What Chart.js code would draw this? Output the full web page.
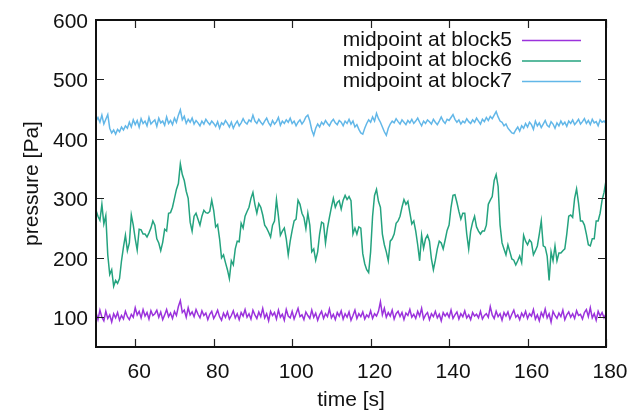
<!DOCTYPE html>
<html>
<head>
<meta charset="utf-8">
<script src="https://cdn.jsdelivr.net/npm/chart.js@4.4.1/dist/chart.umd.min.js"></script>
<style>
  html, body { margin: 0; padding: 0; background: #fff; }
  #wrap { width: 632px; height: 413px; position: relative; }
</style>
</head>
<body>
<div id="wrap"><canvas id="chart"></canvas></div>
<script>
// time axis: samples every 0.5 s from 50 to 180
const tStart = 50;
const tStep = 0.5;
const xTicks = [60, 80, 100, 120, 140, 160, 180];
const yTicks = [100, 200, 300, 400, 500, 600];
const seriesNames = ["midpoint at block5", "midpoint at block6", "midpoint at block7"];
const seriesColors = ["#9b32dc", "#24a37f", "#62b7e8"];

// pressure [Pa], one row = 5 s
const block5 = [
  108,96,112,100,94,110,98,104,92,106,
  99,108,95,103,97,110,101,96,105,100,
  116,104,110,99,113,102,108,97,111,103,
  106,112,100,109,96,104,113,101,107,98,
  110,103,118,128,108,112,100,116,104,109,
  101,113,105,99,111,103,107,96,105,110,
  98,104,112,101,95,107,100,109,97,103,
  111,99,106,96,108,102,113,100,106,97,
  112,104,98,109,101,115,99,106,94,110,
  103,108,97,112,100,105,95,113,102,99,
  110,97,106,115,101,104,96,109,103,98,
  112,100,107,95,104,110,98,106,101,114,
  99,105,96,108,102,111,97,106,100,109,
  95,103,112,98,106,101,109,97,104,100,
  111,98,106,102,110,126,104,115,100,108,
  102,112,97,106,110,101,108,96,107,103,
  113,100,105,98,110,102,115,97,104,108,
  96,106,101,110,99,105,94,108,102,107,
  100,112,98,104,109,97,106,101,111,99,
  104,96,108,102,105,99,110,97,103,106,
  100,118,104,98,110,101,106,95,108,102,
  109,97,105,112,100,104,96,107,101,110,
  98,106,102,113,97,104,94,108,101,114,
  99,106,92,110,103,98,107,101,112,96,
  104,109,100,106,98,111,103,105,97,108,
  113,101,116,99,106,95,110,102,108,99,
  106
];

const block6 = [
  280,270,263,290,257,271,205,172,180,152,
  162,157,165,195,218,238,212,225,272,255,
  232,213,248,247,240,240,235,242,250,262,
  255,232,225,212,226,248,245,275,276,285,
  300,315,325,358,340,330,312,300,260,245,
  270,275,265,255,270,280,276,275,278,297,
  280,252,256,232,200,205,192,180,165,195,
  188,215,228,227,258,250,270,278,285,300,
  310,290,275,291,285,272,255,250,243,235,
  255,262,298,270,238,245,250,232,205,228,
  246,262,265,297,290,275,268,249,275,255,
  210,215,196,210,240,260,258,225,250,268,
  285,300,285,293,296,282,297,305,298,303,
  296,240,250,240,252,250,207,190,180,175,
  210,270,305,315,295,285,240,222,210,195,
  228,232,240,258,262,270,285,298,290,295,
  276,257,262,245,222,195,238,216,232,238,
  228,198,180,196,215,228,225,215,230,246,
  255,285,305,306,293,278,265,275,275,240,
  215,245,260,270,252,245,240,245,245,255,
  290,297,303,330,340,320,255,225,215,205,
  222,210,198,196,188,195,203,192,238,228,
  222,230,226,205,212,220,240,262,220,218,
  203,162,210,195,220,195,208,208,212,215,
  240,270,272,268,300,316,292,262,262,255,
  240,222,220,232,232,262,262,275,297,310,
  330
];

const block7 = [
  430,436,428,440,425,433,441,418,410,415,
  408,416,412,420,415,422,418,428,420,432,
  424,431,420,434,426,430,422,436,425,429,
  432,421,435,427,430,423,437,426,431,424,
  435,428,440,449,432,438,426,433,428,435,
  425,431,427,422,430,425,433,428,424,430,
  426,421,429,418,427,424,431,426,420,428,
  418,425,430,422,427,434,428,425,432,429,
  440,430,426,433,428,424,430,435,427,422,
  431,425,429,436,423,430,426,432,428,435,
  426,430,422,428,432,425,430,437,440,430,
  415,406,418,425,420,428,424,431,426,422,
  429,433,427,424,431,428,422,430,426,433,
  425,430,420,424,416,410,408,418,426,432,
  428,437,430,443,434,428,420,412,406,418,
  425,430,427,434,429,425,432,428,424,431,
  427,433,426,430,435,428,422,430,426,432,
  429,425,433,428,424,430,437,430,426,433,
  431,436,441,433,428,432,425,430,427,434,
  429,426,432,428,435,430,425,433,429,436,
  431,438,434,440,446,437,430,428,422,425,
  418,414,410,409,415,420,413,422,418,426,
  420,428,424,416,430,422,427,419,425,431,
  423,420,429,425,418,427,422,430,424,428,
  421,430,426,432,424,428,433,425,429,434,
  426,431,424,433,427,429,422,432,428,430,
  426
];

const FONT = "'Liberation Sans', Arial, Helvetica, sans-serif";

function toPoints(values){
  return values.map((v, i) => ({ x: tStart + i * tStep, y: v }));
}

// gnuplot style frame with inward ticks on all four sides
const framePlugin = {
  id: "frame",
  afterDatasetsDraw(chart){
    const ctx = chart.ctx;
    const a = chart.chartArea;
    const xs = chart.scales.x, ys = chart.scales.y;
    const tl = 8;
    ctx.save();
    ctx.strokeStyle = "#222";
    ctx.lineWidth = 1.2;
    ctx.beginPath();
    xTicks.forEach(v => {
      const px = Math.round(xs.getPixelForValue(v)) + 0.5;
      ctx.moveTo(px, a.bottom); ctx.lineTo(px, a.bottom - tl);
      ctx.moveTo(px, a.top); ctx.lineTo(px, a.top + tl);
    });
    yTicks.forEach(v => {
      const py = Math.round(ys.getPixelForValue(v)) + 0.5;
      ctx.moveTo(a.left, py); ctx.lineTo(a.left + tl, py);
      ctx.moveTo(a.right, py); ctx.lineTo(a.right - tl, py);
    });
    ctx.stroke();
    ctx.strokeStyle = "#111";
    ctx.lineWidth = 2;
    ctx.strokeRect(a.left, a.top, a.right - a.left, a.bottom - a.top);
    ctx.restore();
  }
};

// key in the top right corner: text first, then the line sample
const keyPlugin = {
  id: "key",
  afterDatasetsDraw(chart){
    const ctx = chart.ctx;
    const textRight = 512, lineX0 = 522, lineX1 = 581;
    const rowY = [40, 60.5, 81];
    ctx.save();
    ctx.font = "21px " + FONT;
    ctx.textAlign = "right";
    ctx.textBaseline = "middle";
    chart.data.datasets.forEach((ds, i) => {
      ctx.fillStyle = "#111";
      ctx.fillText(ds.label, textRight, rowY[i]);
      ctx.strokeStyle = ds.borderColor;
      ctx.lineWidth = 1.5;
      ctx.beginPath();
      ctx.moveTo(lineX0, rowY[i] + 0.5);
      ctx.lineTo(lineX1, rowY[i] + 0.5);
      ctx.stroke();
    });
    ctx.restore();
  }
};

const datasets = [block5, block6, block7].map((vals, i) => ({
  label: seriesNames[i],
  data: toPoints(vals),
  borderColor: seriesColors[i],
  borderWidth: 1.5,
  pointRadius: 0,
  tension: 0,
  fill: false
}));

new Chart(document.getElementById("chart"), {
  type: "line",
  data: { datasets },
  plugins: [framePlugin, keyPlugin],
  options: {
    responsive: true,
    maintainAspectRatio: false,
    animation: false,
    layout: { padding: { top: 20, right: 26, left: 0, bottom: 0 } },
    plugins: { legend: { display: false }, tooltip: { enabled: false } },
    scales: {
      x: {
        type: "linear",
        min: 50, max: 180,
        grid: { display: false, drawTicks: false },
        border: { display: false },
        afterBuildTicks: s => { s.ticks = xTicks.map(v => ({ value: v })); },
        afterFit: s => { s.height = 66; s.paddingLeft = 0; s.paddingRight = 0; },
        ticks: { color: "#111", font: { family: FONT, size: 21 }, padding: 13, labelOffset: 4, maxRotation: 0 },
        title: { display: true, text: "time [s]", color: "#111", font: { family: FONT, size: 21 }, padding: { top: 0, bottom: 0 } }
      },
      y: {
        min: 50, max: 600,
        grid: { display: false, drawTicks: false },
        border: { display: false },
        afterBuildTicks: s => { s.ticks = yTicks.map(v => ({ value: v })); },
        afterFit: s => { s.width = 96; s.paddingTop = 0; s.paddingBottom = 0; },
        ticks: { color: "#111", font: { family: FONT, size: 21 }, padding: 8, labelOffset: 2 },
        title: { display: true, text: "pressure [Pa]", color: "#111", font: { family: FONT, size: 21 }, padding: { top: 20, bottom: 0 } }
      }
    }
  }
});
</script>
</body>
</html>
